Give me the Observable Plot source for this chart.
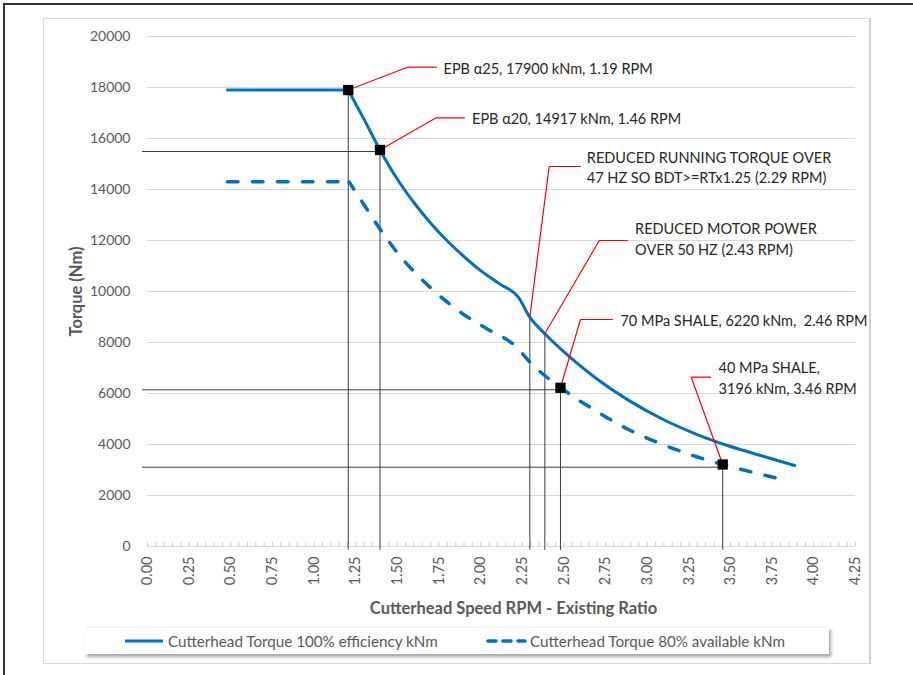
<!DOCTYPE html>
<html>
<head>
<meta charset="utf-8">
<script src="https://cdn.jsdelivr.net/npm/d3@7"></script>
<script src="https://cdn.jsdelivr.net/npm/@observablehq/plot@0.6"></script>
<style>
  html, body { margin: 0; padding: 0; background: #fff; }
  #wrap { position: relative; width: 913px; height: 675px; overflow: hidden; font-family: Lato, "Open Sans", sans-serif; }
  #outer { position: absolute; left: 3px; top: 3px; width: 1000px; height: 1000px; border-left: 2px solid #333; border-top: 2px solid #333; }
  #inner { position: absolute; left: 43px; top: 18px; width: 825px; height: 644px; border: 1px solid #d9d9d9; border-right: 2px solid #d0d0d0; }
  #chart { position: absolute; left: 0; top: 0; }
  #legend { position: absolute; left: 85px; top: 627px; width: 744px; height: 26px; background: #fff;
            border-top: 1px solid #f0f0f0; box-shadow: 2px 3px 3px rgba(0,0,0,0.35); }
  .item { position: absolute; top: 0; height: 26px; line-height: 26px; font-size: 15.2px; color: #595959; white-space: nowrap; }
  .item svg { position: absolute; top: 0; }
</style>
</head>
<body>
<div id="wrap">
  <div id="outer"></div>
  <div id="inner"></div>
  <div id="chart"></div>
  <div id="legend"></div>
</div>
<script>
// ---- data ----
const seriesNames = ["Cutterhead Torque 100% efficiency kNm", "Cutterhead Torque 80% available kNm"];

const solidX = [0.48, 1.205, 1.30, 1.3956, 1.50, 1.60, 1.70, 1.80, 1.90, 1.996, 2.116, 2.226, 2.295, 2.385, 2.536, 2.696, 2.896, 3.096, 3.296, 3.496, 3.696, 3.885];
const solidY = [17900, 17900, 16750, 15550, 14400, 13480, 12680, 11980, 11370, 10840, 10290, 9777, 8992, 8341, 7424, 6580, 5700, 4980, 4400, 3930, 3540, 3176];

const dashX = [0.48, 1.21, 1.30, 1.397, 1.50, 1.60, 1.70, 1.80, 1.90, 2.037, 2.216, 2.296, 2.476, 2.696, 2.896, 3.096, 3.296, 3.496, 3.815];
const dashY = [14300, 14300, 13400, 12440, 11520, 10780, 10140, 9580, 9090, 8540, 7817, 7228, 6248, 5300, 4560, 3990, 3520, 3140, 2627];

const markerX = [1.205, 1.3956, 2.479, 3.453];
const markerY = [17900, 15550, 6224, 3216];

const dropX = [1.205, 1.3956, 2.295, 2.385, 2.479, 3.453];
const dropTop = [17900, 15550, 8992, 8341, 6224, 3216];

const guideY = [15490, 6145, 3110];
const guideEndX = [1.3956, 2.479, 3.453];

const calloutText = [
  "EPB \u03b125, 17900 kNm, 1.19 RPM",
  "EPB \u03b120, 14917 kNm, 1.46 RPM",
  "REDUCED RUNNING TORQUE OVER\n47 HZ SO BDT>=RTx1.25 (2.29 RPM)",
  "REDUCED MOTOR POWER\nOVER 50 HZ (2.43 RPM)",
  "70 MPa SHALE, 6220 kNm,  2.46 RPM",
  "40 MPa SHALE,\n3196 kNm, 3.46 RPM"
];
const calloutFromX = [1.205, 1.3956, 2.295, 2.385, 2.479, 3.453];
const calloutFromY = [17900, 15550, 8992, 8341, 6224, 3216];
const calloutElbowX = [1.561, 1.733, 2.411, 2.712, 2.599, 3.264];
const calloutElbowY = [18796, 16812, 14902, 12000, 8902, 6639];
const calloutEndX = [1.735, 1.903, 2.599, 2.881, 2.791, 3.380];
const calloutTextX = [1.777, 1.948, 2.637, 2.927, 2.839, 3.428];
const calloutTextY = [18796, 16812, 14902, 12100, 8902, 6660];

const yTicks = [0, 2000, 4000, 6000, 8000, 10000, 12000, 14000, 16000, 18000, 20000];
const xTicks = [0, 0.25, 0.5, 0.75, 1, 1.25, 1.5, 1.75, 2, 2.25, 2.5, 2.75, 3, 3.25, 3.5, 3.75, 4, 4.25];
const xMinorStep = 0.05;
const xTitle = "Cutterhead Speed RPM - Existing Ratio";
const yTitle = "Torque (Nm)";

// ---- tables ----
const solid = solidX.map((x, i) => ({x, y: solidY[i]}));
const dashed = dashX.map((x, i) => ({x, y: dashY[i]}));
const markers = markerX.map((x, i) => ({x, y: markerY[i]}));
const drops = dropX.map((x, i) => ({x, top: dropTop[i]}));
const guides = guideY.map((y, i) => ({y, x2: guideEndX[i]}));
const leaders = calloutText.flatMap((t, i) => [
  {id: i, x: calloutFromX[i], y: calloutFromY[i]},
  {id: i, x: calloutElbowX[i], y: calloutElbowY[i]},
  {id: i, x: calloutEndX[i], y: calloutElbowY[i]}
]);
const callouts = calloutText.map((t, i) => ({text: t, x: calloutTextX[i], y: calloutTextY[i]}));
const minorTicks = d3.range(0, Math.round(4.25 / xMinorStep) + 1).map(k => +(k * xMinorStep).toFixed(2));

const blue = "#0070c0";

const chart = Plot.plot({
  width: 913,
  height: 675,
  marginLeft: 147,
  marginRight: 58,
  marginTop: 36,
  marginBottom: 129,
  x: {domain: [0, 4.25]},
  y: {domain: [0, 20000]},
  style: {fontFamily: "Lato, 'Open Sans', sans-serif", fontSize: "14px", background: "transparent", overflow: "visible"},
  marks: [
    Plot.gridY(yTicks, {stroke: "#d9d9d9", strokeOpacity: 1}),
    Plot.axisX(minorTicks, {tickSize: -4, tickFormat: () => "", stroke: "#c8c8c8", label: null}),
    Plot.axisY(yTicks, {tickSize: 0, tickPadding: 17, tickFormat: d => String(d), fill: "#595959", label: null, fontSize: 14}),
    Plot.axisX(xTicks, {tickSize: 0, tickPadding: 10, tickRotate: -90, tickFormat: d => d.toFixed(2), fill: "#595959", label: null, fontSize: 14.5}),
    Plot.text([xTitle], {text: d => d, frameAnchor: "bottom", textAnchor: "middle", lineAnchor: "middle", dx: 12, dy: 62, fontWeight: "bold", fill: "#595959", fontSize: 16.5}),
    Plot.text([yTitle], {text: d => d, frameAnchor: "left", textAnchor: "middle", lineAnchor: "middle", rotate: -90, dx: -71, fontWeight: "bold", fill: "#595959", fontSize: 16.5}),
    Plot.ruleX(drops, {x: "x", y1: "top", y2: -150, stroke: "#3c3c3c", strokeWidth: 1}),
    Plot.ruleY(guides, {y: "y", x1: -0.03, x2: "x2", stroke: "#3c3c3c", strokeWidth: 1}),
    Plot.line(solid.filter(d => d.x <= 1.205), {x: "x", y: "y", stroke: blue, strokeWidth: 3}),
    Plot.line(solid.filter(d => d.x >= 1.205), {x: "x", y: "y", stroke: blue, strokeWidth: 3, curve: "monotone-x"}),
    Plot.line(dashed.filter(d => d.x <= 1.21), {x: "x", y: "y", stroke: blue, strokeWidth: 3.5, strokeDasharray: "10.5,14.5", strokeLinecap: "round"}),
    Plot.line(dashed.filter(d => d.x >= 1.21), {x: "x", y: "y", stroke: blue, strokeWidth: 3.5, strokeDasharray: "10.5,14.5", strokeDashoffset: 2, strokeLinecap: "round", curve: "monotone-x"}),
    Plot.line(leaders, {x: "x", y: "y", z: "id", stroke: "#ff0000", strokeWidth: 1.2}),
    Plot.dot(markers, {x: "x", y: "y", symbol: "square", r: 5.8, fill: "#000", stroke: null}),
    Plot.text(callouts, {x: "x", y: "y", text: "text", textAnchor: "start", lineAnchor: "middle", lineHeight: 1.42, fill: "#262626", fontSize: 14.5})
  ]
});
document.getElementById("chart").appendChild(chart);

// ---- legend ----
const legend = document.getElementById("legend");
const items = [
  {left: 40, name: seriesNames[0], dash: null},
  {left: 400, name: seriesNames[1], dash: "8,7"}
];
items.forEach(it => {
  const div = document.createElement("div");
  div.className = "item";
  div.style.left = it.left + "px";
  const svgNS = "http://www.w3.org/2000/svg";
  const svg = document.createElementNS(svgNS, "svg");
  svg.setAttribute("width", 42);
  svg.setAttribute("height", 26);
  svg.style.left = "0px";
  const ln = document.createElementNS(svgNS, "line");
  ln.setAttribute("x1", it.dash ? 3 : 0);
  ln.setAttribute("x2", it.dash ? 40 : 38);
  ln.setAttribute("y1", 13);
  ln.setAttribute("y2", 13);
  ln.setAttribute("stroke", blue);
  ln.setAttribute("stroke-width", it.dash ? 3.5 : 3);
  if (it.dash) { ln.setAttribute("stroke-dasharray", it.dash); ln.setAttribute("stroke-linecap", "round"); }
  svg.appendChild(ln);
  div.appendChild(svg);
  const span = document.createElement("span");
  span.textContent = it.name;
  span.style.marginLeft = (it.dash ? 45 : 43) + "px";
  div.appendChild(span);
  legend.appendChild(div);
});
</script>
</body>
</html>
